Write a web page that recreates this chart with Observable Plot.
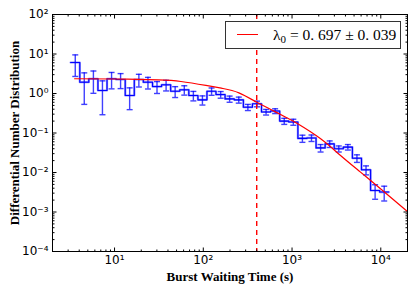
<!DOCTYPE html>
<html><head><meta charset="utf-8">
<script src="https://cdn.jsdelivr.net/npm/d3@7"></script>
<script src="https://cdn.jsdelivr.net/npm/@observablehq/plot@0.6"></script>
<style>
body{margin:0;background:#fff;}
#wrap{position:relative;width:415px;height:293px;}
#legend{position:absolute;left:225px;top:21px;width:174px;height:26px;border:1px solid #333;background:#fff;
  font-family:"Liberation Serif","DejaVu Serif",serif;font-size:15.5px;line-height:26px;white-space:nowrap;}
#legend .sw{position:absolute;left:11px;top:12px;width:21px;height:0;border-top:1.3px solid #ff0000;}
#legend .tx{position:absolute;left:47px;top:0;}
#legend sub{font-size:11px;vertical-align:-3px;line-height:0;}
</style></head><body><div id="wrap"></div>
<script>
// histogram bin edges (s)
const binEdges = [3.20, 4.06, 5.13, 6.50, 8.23, 10.4, 13.2, 16.7, 21.1, 26.8, 33.9, 42.9, 54.3, 68.7, 87.0,
  110, 139, 176, 223, 283, 358, 453, 573, 726, 919, 1164, 1473, 1865, 2361, 2988, 3783, 4789, 6062, 7674, 9714, 12298];
// bin centres (s) where the error bars sit
const binCenters = [3.61, 4.56, 5.78, 7.31, 9.26, 11.7, 14.8, 18.8, 23.8, 30.1, 38.1, 48.2, 61.1, 77.3, 97.8,
  124, 157, 198, 251, 318, 403, 510, 645, 817, 1034, 1309, 1657, 2098, 2656, 3362, 4256, 5387, 6820, 8633, 10929];
// differential number distribution per bin
const counts = [6.1, 1.93, 2.36, 1.19, 2.36, 2.26, 0.89, 2.26, 1.93, 1.5, 1.66, 1.14, 1.24, 0.89, 0.69,
  1.14, 0.94, 0.73, 0.69, 0.45, 0.55, 0.34, 0.36, 0.20, 0.19, 0.073, 0.075, 0.042, 0.053, 0.040, 0.044,
  0.023, 0.0117, 0.0035, 0.0032];
// 1-sigma errors
const errors = [3.4, 1.4, 1.35, 0.9, 1.05, 0.93, 0.5, 0.8, 0.63, 0.5, 0.5, 0.35, 0.33, 0.24, 0.18,
  0.24, 0.18, 0.13, 0.12, 0.08, 0.09, 0.055, 0.05, 0.035, 0.033, 0.015, 0.014, 0.009, 0.01, 0.007, 0.007,
  0.005, 0.003, 0.0014, 0.0013];
// fitted model curve
const fitX = [3.55, 10, 31, 56, 107, 166, 252, 401, 576, 850, 1159, 2100, 3520, 5910, 9930, 19950];
const fitY = [2.36, 2.33, 2.20, 2.01, 1.60, 1.34, 1.04, 0.60, 0.394, 0.251, 0.171, 0.0713, 0.0269, 0.0102, 0.00386, 0.00103];
const cutoff = [400];
// ticks
const xTicks = [10, 100, 1000, 10000];
const xTickLabels = ["10¹", "10²", "10³", "10⁴"];
const yTicks = [1e-4, 1e-3, 1e-2, 1e-1, 1, 10, 100];
const yTickLabels = ["10⁻⁴", "10⁻³", "10⁻²", "10⁻¹", "10⁰", "10¹", "10²"];
const xDomain = [2, 20000];
const yDomain = [1e-4, 100];

const minor = (lo, hi) => { const out = []; for (let d = Math.pow(10, Math.floor(Math.log10(lo))); d < hi; d *= 10) for (let m = 2; m <= 9; m++) { const v = m * d; if (v > lo && v < hi) out.push(v); } return out; };
const xMinor = minor(xDomain[0], xDomain[1]);
const yMinor = minor(yDomain[0], yDomain[1]);

const seg = (dx, dy) => ({draw(c) { c.moveTo(0, 0); c.lineTo(dx, dy); }});
const cap = {draw(c) { c.moveTo(-3, 0); c.lineTo(3, 0); }};

const steps = binEdges.map((e, i) => ({x: e, y: counts[Math.min(i, counts.length - 1)]}));
const bars = counts.map((c, i) => ({x: binCenters[i], lo: c - errors[i], hi: c + errors[i]}));
const fit = fitX.map((x, i) => ({x, y: fitY[i]}));

const tickMarks = (major, minorV, len, axis) => {
  const out = [];
  for (const [vals, L] of [[major, len], [minorV, len / 2]]) {
    if (axis === "x") {
      out.push(Plot.dot(vals, {x: d => d, y: yDomain[0], r: 1, symbol: seg(0, -L), stroke: "#000", strokeWidth: 1}));
      out.push(Plot.dot(vals, {x: d => d, y: yDomain[1], r: 1, symbol: seg(0, L), stroke: "#000", strokeWidth: 1}));
    } else {
      out.push(Plot.dot(vals, {x: xDomain[0], y: d => d, r: 1, symbol: seg(L, 0), stroke: "#000", strokeWidth: 1}));
      out.push(Plot.dot(vals, {x: xDomain[1], y: d => d, r: 1, symbol: seg(-L, 0), stroke: "#000", strokeWidth: 1}));
    }
  }
  return out;
};

const chart = Plot.plot({
  width: 415, height: 293,
  marginLeft: 52, marginRight: 8, marginTop: 14, marginBottom: 42,
  x: {type: "log", domain: xDomain, axis: null},
  y: {type: "log", domain: yDomain, axis: null},
  style: {fontFamily: "DejaVu Sans", fontSize: "11px", background: "#fff"},
  marks: [
    Plot.line(steps, {x: "x", y: "y", curve: "step-after", stroke: "#0000ff", strokeWidth: 2.2, strokeOpacity: 0.45}),
    Plot.line(steps, {x: "x", y: "y", curve: "step-after", stroke: "#0000ff", strokeWidth: 1.1}),
    Plot.ruleX(bars, {x: "x", y1: "lo", y2: "hi", stroke: "#0000ff", strokeWidth: 1.4, strokeOpacity: 0.75}),
    Plot.dot(bars, {x: "x", y: "lo", r: 1, symbol: cap, stroke: "#0000ff", strokeWidth: 1.4, strokeOpacity: 0.75}),
    Plot.dot(bars, {x: "x", y: "hi", r: 1, symbol: cap, stroke: "#0000ff", strokeWidth: 1.4, strokeOpacity: 0.75}),
    Plot.line(fit, {x: "x", y: "y", curve: "natural", stroke: "#ff0000", strokeWidth: 1.2}),
    Plot.ruleX(cutoff, {x: d => d, stroke: "#ff0000", strokeWidth: 1.4, strokeDasharray: "5,4"}),
    Plot.frame({stroke: "#000", strokeWidth: 1}),
    ...tickMarks(xTicks, xMinor, 4, "x"),
    ...tickMarks(yTicks, yMinor, 4, "y"),
    Plot.text(xTicks, {x: d => d, y: yDomain[0], dy: 9, lineAnchor: "middle", text: (d, i) => xTickLabels[i], fill: "#000", fontSize: 12}),
    Plot.text(yTicks, {x: xDomain[0], y: d => d, dx: -4, textAnchor: "end", lineAnchor: "middle", text: (d, i) => yTickLabels[i], fill: "#000", fontSize: 12}),
    Plot.text(["Burst Waiting Time (s)"], {frameAnchor: "bottom", dy: 25, textAnchor: "middle", lineAnchor: "middle", text: d => d, fontFamily: "Liberation Serif", fontWeight: "bold", fontSize: 13, fill: "#000"}),
    Plot.text(["Differential Number Distribution"], {frameAnchor: "left", dx: -38, rotate: -90, textAnchor: "middle", lineAnchor: "middle", text: d => d, fontFamily: "Liberation Serif", fontWeight: "bold", fontSize: 13, fill: "#000"})
  ]
});
const wrap = document.getElementById("wrap");
wrap.appendChild(chart);
const lg = document.createElement("div");
lg.id = "legend";
lg.innerHTML = '<div class="sw"></div><div class="tx">λ<sub>0</sub> = 0. 697 ± 0. 039</div>';
wrap.appendChild(lg);
</script></body></html>
